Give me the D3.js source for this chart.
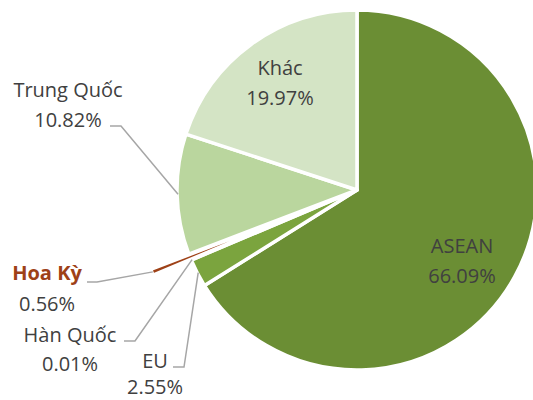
<!DOCTYPE html>
<html>
<script src='https://d3js.org/d3.v7.min.js'></script>
<style>
body {margin: 0; background: white;}
text {font-family: 'Open Sans', sans-serif; font-size: 20px; fill: #404040;}
</style>
<body>
<script>
// data
var categories = ['ASEAN', 'EU', 'Hàn Quốc', 'Hoa Kỳ', 'Trung Quốc', 'Khác'];
var shares = [66.09, 2.55, 0.01, 0.56, 10.82, 19.97];
var pctLabels = ['66.09%', '2.55%', '0.01%', '0.56%', '10.82%', '19.97%'];
var colors = ['#6b8e34', '#7ba43e', '#8fb356', '#9e4117', '#bad69e', '#d4e4c5'];

var data = categories.map(function(c, i) { return {name: c, value: shares[i], pct: pctLabels[i], color: colors[i]}; });

var cx = 357, cy = 190, r = 180;
var explode = {'Hoa Kỳ': 41};

// label layout; inside labels have no leader
var layout = {
  'ASEAN': {x: 462, y1: 253, y2: 283},
  'Khác': {x: 280, y1: 75, y2: 105},
  'Trung Quốc': {x: 68, y1: 97, y2: 127, lx: 110, ly: 126, ex: 121},
  'Hoa Kỳ': {x: 47, y1: 280, y2: 311, lx: 87, ly: 282, ex: 97, bold: true},
  'Hàn Quốc': {x: 70, y1: 342, y2: 371, lx: 124, ly: 341, ex: 135},
  'EU': {x: 155, y1: 368, y2: 394, lx: 173, ly: 367, ex: 184}
};

var svg = d3.select('body')
  .append('svg')
  .attr('width', 533)
  .attr('height', 400);

var pie = d3.pie().sort(null).value(function(d) { return d.value; });
var arcs = pie(data);
var arc = d3.arc().innerRadius(0).outerRadius(r);

function offset(d) {
  var e = explode[d.data.name] || 0;
  var a = (d.startAngle + d.endAngle) / 2;
  return [Math.sin(a) * e, -Math.cos(a) * e];
}

var g = svg.append('g').attr('transform', 'translate(' + cx + ',' + cy + ')');

g.selectAll('path')
  .data(arcs)
  .enter()
  .append('path')
  .attr('d', arc)
  .attr('transform', function(d) { var o = offset(d); return 'translate(' + o[0] + ',' + o[1] + ')'; })
  .style('fill', function(d) { return d.data.color; })
  .style('stroke', 'white')
  .style('stroke-width', 3.5)
  .style('stroke-linejoin', 'round');

// leader lines
arcs.forEach(function(d) {
  var L = layout[d.data.name];
  if (L.lx === undefined) return;
  var a = (d.startAngle + d.endAngle) / 2;
  var e = explode[d.data.name] || 0;
  var rr = r - 1 + e;
  var px = cx + Math.sin(a) * rr, py = cy - Math.cos(a) * rr;
  svg.append('polyline')
    .attr('points', [[L.lx, L.ly], [L.ex, L.ly], [px, py]].map(function(p) { return p.join(','); }).join(' '))
    .style('fill', 'none')
    .style('stroke', '#a6a6a6')
    .style('stroke-width', 1.5);
});

// labels
arcs.forEach(function(d) {
  var L = layout[d.data.name];
  var t1 = svg.append('text')
    .attr('x', L.x)
    .attr('y', L.y1)
    .style('text-anchor', 'middle')
    .text(d.data.name);
  if (L.bold) t1.style('font-weight', 'bold').style('fill', d.data.color);
  svg.append('text')
    .attr('x', L.x)
    .attr('y', L.y2)
    .style('text-anchor', 'middle')
    .text(d.data.pct);
});
</script>
</body>
</html>
